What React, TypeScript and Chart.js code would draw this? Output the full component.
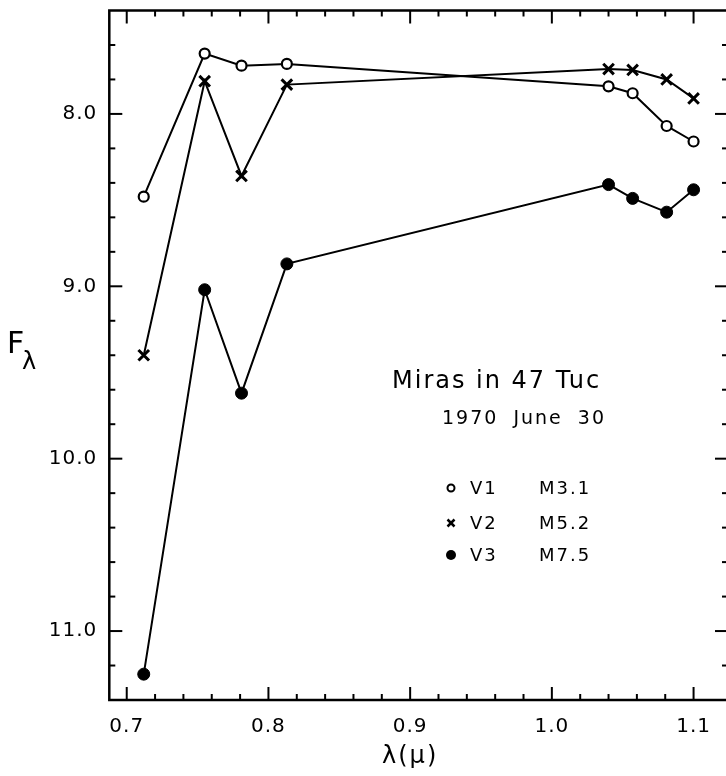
import React, { useEffect, useRef } from 'react';
import { Chart, registerables } from 'chart.js';

Chart.register(...registerables);

// ---- data ----
const WAVELENGTHS = [0.712, 0.755, 0.781, 0.813, 1.04, 1.057, 1.081, 1.1];
const V1_VALUES = [8.48, 7.65, 7.72, 7.71, 7.84, 7.88, 8.07, 8.16];
const V2_VALUES = [9.4, 7.81, 8.36, 7.83, 7.74, 7.745, 7.8, 7.91];
const V3_VALUES = [11.25, 9.02, 9.62, 8.87, 8.41, 8.49, 8.57, 8.44];

const SERIES_NAMES = ['V1', 'V2', 'V3'];
const SPECTRAL_TYPES = ['M3.1', 'M5.2', 'M7.5'];
const X_TICK_LABELS = ['0.7', '0.8', '0.9', '1.0', '1.1'];
const Y_TICK_LABELS = ['8.0', '9.0', '10.0', '11.0'];
const TITLE = 'Miras in 47 Tuc';
const DATE_TEXT = '1970 June 30';
const X_TITLE = 'λ(μ)';
const Y_TITLE = 'F';
const Y_TITLE_SUB = 'λ';

const X_MIN = 0.6877;
const X_MAX = 1.1243;
const Y_MIN = 7.4;
const Y_MAX = 11.4;
const X_MINOR_STEP = 0.02;
const Y_MINOR_STEP = 0.2;

const FONT = '"DejaVu Sans", "Liberation Sans", sans-serif';

const toPoints = (vals: number[]) => WAVELENGTHS.map((x, i) => ({ x, y: vals[i] }));

const decorPlugin = {
  id: 'decor',
  afterDraw(chart: any) {
    const { ctx, chartArea: a } = chart;
    const xs = chart.scales.x;
    const ys = chart.scales.y;
    ctx.save();
    ctx.strokeStyle = '#000';
    ctx.fillStyle = '#000';
    ctx.lineCap = 'butt';

    const line = (x1: number, y1: number, x2: number, y2: number) => {
      ctx.beginPath();
      ctx.moveTo(x1, y1);
      ctx.lineTo(x2, y2);
      ctx.stroke();
    };

    // ticks (inward, on all four sides)
    ctx.lineWidth = 2;
    const nX = Math.round((1.1 - 0.7) / X_MINOR_STEP);
    for (let i = 0; i <= nX; i++) {
      const v = 0.7 + i * X_MINOR_STEP;
      const major = i % 5 === 0;
      const L = major ? 13 : 6;
      const px = xs.getPixelForValue(v);
      line(px, a.bottom, px, a.bottom - L);
      line(px, a.top, px, a.top + L);
    }
    const nY = Math.round((11.2 - 7.6) / Y_MINOR_STEP);
    for (let i = 0; i <= nY; i++) {
      const v = 7.6 + i * Y_MINOR_STEP;
      const major = Math.abs(v - Math.round(v)) < 1e-6;
      const L = major ? 13 : 6;
      const py = ys.getPixelForValue(v);
      line(a.left, py, a.left + L, py);
      line(a.right, py, a.right - L, py);
    }

    // frame
    ctx.lineWidth = 2.5;
    ctx.strokeRect(a.left, a.top, a.right - a.left, a.bottom - a.top);

    // tick labels
    ctx.font = `20px ${FONT}`;
    (ctx as any).letterSpacing = '1px';
    ctx.textBaseline = 'middle';
    ctx.textAlign = 'center';
    X_TICK_LABELS.forEach((l) => ctx.fillText(l, xs.getPixelForValue(parseFloat(l)), a.bottom + 27));
    ctx.textAlign = 'right';
    Y_TICK_LABELS.forEach((l) => ctx.fillText(l, a.left - 12, ys.getPixelForValue(parseFloat(l))));

    // axis titles
    ctx.textAlign = 'center';
    ctx.font = `24px ${FONT}`;
    (ctx as any).letterSpacing = '2px';
    ctx.fillText(X_TITLE, xs.getPixelForValue(0.9), a.bottom + 57);
    ctx.textAlign = 'left';
    ctx.textBaseline = 'alphabetic';
    (ctx as any).letterSpacing = '0px';
    ctx.font = `30px ${FONT}`;
    ctx.fillText(Y_TITLE, 7, 353);
    ctx.font = `24px ${FONT}`;
    ctx.fillText(Y_TITLE_SUB, 22, 369);

    // annotation
    ctx.font = `24px ${FONT}`;
    (ctx as any).letterSpacing = '2px';
    ctx.fillText(TITLE, 392, 388);
    ctx.font = `19px ${FONT}`;
    (ctx as any).letterSpacing = '2px';
    (ctx as any).wordSpacing = '7px';
    ctx.fillText(DATE_TEXT, 442, 424);
    (ctx as any).wordSpacing = '0px';

    // legend
    const rows = [488, 523, 555];
    ctx.font = `18px ${FONT}`;
    (ctx as any).letterSpacing = '2px';
    rows.forEach((cy, i) => {
      const mx = 451;
      ctx.lineWidth = 2;
      if (i === 0) {
        ctx.beginPath();
        ctx.arc(mx, cy, 3.5, 0, Math.PI * 2);
        ctx.stroke();
      } else if (i === 1) {
        const d = 3.5;
        ctx.lineWidth = 2.5;
        line(mx - d, cy - d, mx + d, cy + d);
        line(mx - d, cy + d, mx + d, cy - d);
      } else {
        ctx.beginPath();
        ctx.arc(mx, cy, 5, 0, Math.PI * 2);
        ctx.fill();
      }
      ctx.textBaseline = 'middle';
      ctx.fillText(SERIES_NAMES[i], 470, cy + 1);
      ctx.fillText(SPECTRAL_TYPES[i], 539, cy + 1);
    });

    ctx.restore();
  },
};

export default function App() {
  const ref = useRef<HTMLCanvasElement | null>(null);

  useEffect(() => {
    if (!ref.current) return;
    const common = {
      showLine: true,
      borderColor: '#000',
      borderWidth: 2,
      tension: 0,
      pointBorderColor: '#000',
    };
    const chart = new Chart(ref.current, {
      type: 'scatter',
      data: {
        datasets: [
          {
            ...common,
            label: SERIES_NAMES[0],
            data: toPoints(V1_VALUES),
            pointStyle: 'circle',
            pointRadius: 5,
            pointBorderWidth: 2.2,
            pointBackgroundColor: '#fff',
          },
          {
            ...common,
            label: SERIES_NAMES[1],
            data: toPoints(V2_VALUES),
            pointStyle: 'crossRot',
            pointRadius: 7.5,
            pointBorderWidth: 3,
            pointBackgroundColor: '#000',
          },
          {
            ...common,
            label: SERIES_NAMES[2],
            data: toPoints(V3_VALUES),
            pointStyle: 'circle',
            pointRadius: 6,
            pointBorderWidth: 1,
            pointBackgroundColor: '#000',
          },
        ] as any,
      },
      options: {
        animation: false,
        responsive: false,
        devicePixelRatio: 1,
        layout: { padding: { left: 109.3, top: 5, right: 12, bottom: 76 } },
        plugins: {
          legend: { display: false },
          tooltip: { enabled: false },
        },
        events: [],
        scales: {
          x: { type: 'linear', min: X_MIN, max: X_MAX, display: false },
          y: { type: 'linear', min: Y_MIN, max: Y_MAX, reverse: true, display: false },
        },
      },
      plugins: [decorPlugin],
    });
    return () => chart.destroy();
  }, []);

  return (
    <div
      style={{
        position: 'fixed',
        left: 0,
        top: 0,
        width: 726,
        height: 776,
        overflow: 'hidden',
        background: '#fff',
      }}
    >
      <canvas ref={ref} width={740} height={776} style={{ display: 'block', width: 740, height: 776 }} />
    </div>
  );
}
